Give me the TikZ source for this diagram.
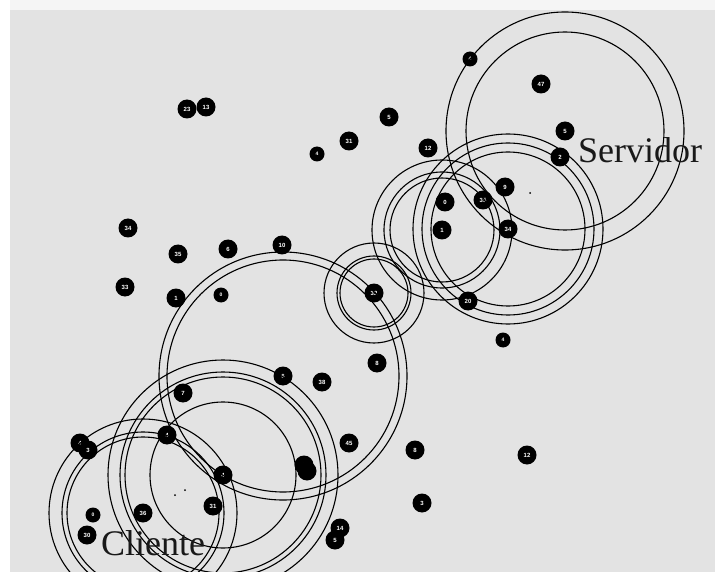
\documentclass[tikz,border=0pt]{standalone}
\usepackage{fontspec}
\setmainfont{Liberation Serif}
\newfontfamily\dotfont{Liberation Sans}
\begin{document}
\begin{tikzpicture}[x=1pt,y=-1pt,
  ring/.style={draw=black,line width=1.1pt},
  pt/.style={circle,fill=black,inner sep=0pt,minimum size=19pt,text=white,font=\dotfont\fontsize{6}{6}\selectfont\bfseries},
  spt/.style={pt,minimum size=15pt,font=\dotfont\fontsize{5}{5}\selectfont\bfseries},
  lbl/.style={anchor=base west,inner sep=0pt,text=black!90,font=\fontsize{36}{40}\selectfont}]
\useasboundingbox (0,0) rectangle (715,572);
\fill[white] (0,0) rectangle (715,572);
\fill[black!4!white] (10,0) rectangle (715,10);
\fill[black!11] (10,10) rectangle (715,572);
\begin{scope}
\clip (10,10) rectangle (715,572);
% dots
\node[pt] (d1) at (187,109) {23};
\node[pt] (d2) at (206,107) {13};
\node[spt] (d3) at (470,59) {4};
\node[pt] (d4) at (541,84) {47};
\node[pt] (d5) at (565,131) {5};
\node[pt] (d6) at (560,157) {2};
\node[pt] (d7) at (389,117) {5};
\node[pt] (d8) at (349,141) {31};
\node[spt] (d9) at (317,154) {4};
\node[pt] (d10) at (428,148) {12};
\node[pt] (d11) at (505,187) {9};
\node[pt] (d12) at (483,200) {35};
\node[pt] (d13) at (445,202) {0};
\node[pt] (d14) at (442,230) {1};
\node[pt] (d15) at (508,229) {34};
\node[pt] (d16) at (128,228) {34};
\node[pt] (d17) at (178,254) {35};
\node[pt] (d18) at (228,249) {6};
\node[pt] (d19) at (282,245) {10};
\node[pt] (d20) at (125,287) {33};
\node[pt] (d21) at (176,298) {1};
\node[spt] (d22) at (221,295) {0};
\node[pt] (d23) at (374,293) {32};
\node[pt] (d24) at (468,301) {20};
\node[spt] (d25) at (503,340) {4};
\node[pt] (d26) at (377,363) {8};
\node[pt] (d27) at (283,376) {6};
\node[pt] (d28) at (322,382) {38};
\node[pt] (d29) at (183,393) {7};
\node[pt] (d30) at (167,435) {4};
\node[pt] (d31) at (80,443) {4};
\node[pt] (d32) at (88,450) {3};
\node[pt] (d33) at (349,443) {45};
\node[pt] (d34) at (415,450) {8};
\node[pt] (d35) at (527,455) {12};
\node[pt] (d36) at (304,465) {1};
\node[pt] (d37) at (307,471) {};
\node[pt] (d38) at (223,475) {4};
\node[pt] (d39) at (213,506) {31};
\node[pt] (d40) at (143,513) {36};
\node[spt] (d41) at (93,515) {0};
\node[pt] (d42) at (87,535) {30};
\node[pt] (d43) at (422,503) {3};
\node[pt] (d44) at (340,528) {14};
\node[pt] (d45) at (335,540) {5};
% rings
\draw[ring] (d5.center) circle (119pt) (d5.center) circle (99pt);
\draw[ring] (d15.center) circle (95pt) (d15.center) circle (86pt) (d15.center) circle (77pt);
\draw[ring] (d14.center) circle (70pt) (d14.center) circle (58pt) (d14.center) circle (52pt);
\draw[ring] (d23.center) circle (50pt) (d23.center) circle (37pt) (d23.center) circle (34pt);
\draw[ring] (d27.center) circle (124pt) (d27.center) circle (116pt);
\draw[ring] (d38.center) circle (115pt) (d38.center) circle (103pt) (d38.center) circle (98pt) (d38.center) circle (73pt);
\draw[ring] (d40.center) circle (94pt) (d40.center) circle (81pt) (d40.center) circle (76pt);
% specks
\fill (530,193) circle (1pt) (175,495) circle (1pt) (185,490) circle (1pt);
% labels
\node[lbl] (srv) at (578,163) {Servidor};
\node[lbl] (cli) at (101,555) {Cliente};
\end{scope}
\end{tikzpicture}
\end{document}
